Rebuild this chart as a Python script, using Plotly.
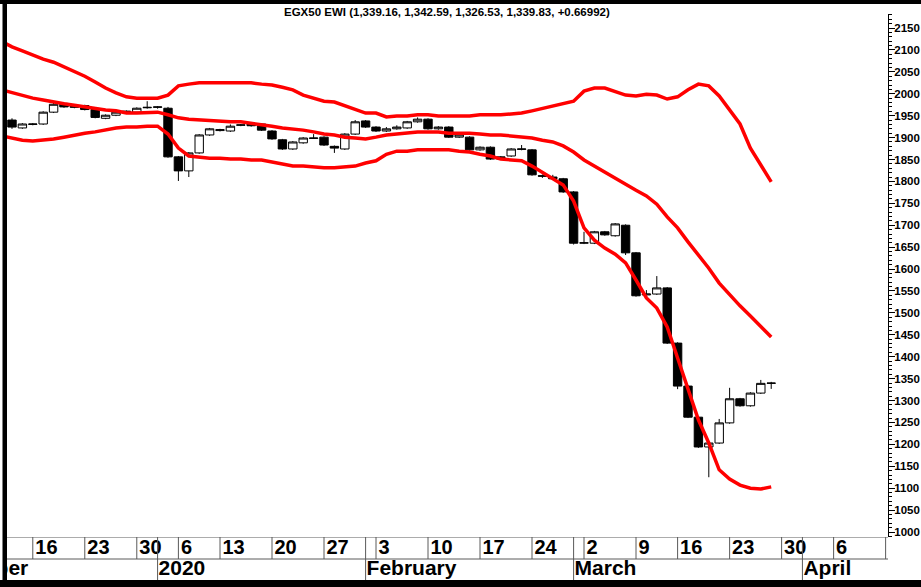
import plotly.graph_objects as go

# ---------------- data ----------------
dates = [
    "2019-12-11", "2019-12-12", "2019-12-15", "2019-12-16", "2019-12-17", "2019-12-18", "2019-12-19",
    "2019-12-22", "2019-12-23", "2019-12-24", "2019-12-25", "2019-12-26", "2019-12-29", "2019-12-30",
    "2019-12-31", "2020-01-02", "2020-01-05", "2020-01-06", "2020-01-08", "2020-01-09", "2020-01-12",
    "2020-01-13", "2020-01-14", "2020-01-15", "2020-01-16", "2020-01-19", "2020-01-20", "2020-01-21",
    "2020-01-22", "2020-01-23", "2020-01-26", "2020-01-27", "2020-01-28", "2020-01-29", "2020-01-30",
    "2020-02-02", "2020-02-03", "2020-02-04", "2020-02-05", "2020-02-06", "2020-02-09", "2020-02-10",
    "2020-02-11", "2020-02-12", "2020-02-13", "2020-02-16", "2020-02-17", "2020-02-18", "2020-02-19",
    "2020-02-20", "2020-02-23", "2020-02-24", "2020-02-25", "2020-02-26", "2020-02-27", "2020-03-01",
    "2020-03-02", "2020-03-03", "2020-03-04", "2020-03-05", "2020-03-08", "2020-03-09", "2020-03-10",
    "2020-03-11", "2020-03-15", "2020-03-16", "2020-03-17", "2020-03-18", "2020-03-19", "2020-03-22",
    "2020-03-23", "2020-03-24", "2020-03-25", "2020-03-26", "2020-03-29",
]

opens = [None,
    1940, 1922, 1930, 1931, 1958, 1978, 1973, 1973, 1964, 1944, 1951, 1958, 1958, 1968, 1969,
    1967, 1856, 1824, 1865, 1906, 1916, 1915, 1928, 1931, 1931, 1915, 1895, 1874, 1888, 1898,
    1901, 1880, 1874, 1908, 1938, 1924, 1915, 1920, 1922, 1936, 1942, 1920, 1924, 1901, 1901,
    1872, 1878, 1856, 1858, 1873, 1872, 1813, 1810, 1806, 1776, 1659, 1659, 1685, 1676, 1700,
    1637, 1541, 1543, 1557, 1431, 1333, 1262, 1194, 1203, 1249, 1304, 1288, 1317, 1339.16]
highs = [None,
    1944, 1933, 1933, 1960, 1980, 1980, 1976, 1975, 1966, 1953, 1960, 1962, 1969, 1983, 1972,
    1970, 1858, 1867, 1908, 1922, 1920, 1930, 1931, 1933, 1933, 1917, 1897, 1892, 1901, 1908,
    1903, 1882, 1910, 1940, 1940, 1926, 1924, 1928, 1938, 1946, 1944, 1926, 1926, 1908, 1903,
    1880, 1880, 1858, 1876, 1883, 1874, 1816, 1815, 1808, 1778, 1685, 1687, 1687, 1705, 1702,
    1639, 1552, 1584, 1559, 1433, 1335, 1264, 1206, 1258, 1329, 1306, 1319, 1347, 1342.59]
lows = [None,
    1920, 1920, 1928, 1929, 1956, 1968, 1967, 1962, 1944, 1942, 1949, 1956, 1956, 1966, 1966,
    1854, 1801, 1810, 1863, 1904, 1914, 1913, 1926, 1925, 1915, 1895, 1872, 1872, 1886, 1897,
    1881, 1865, 1872, 1906, 1922, 1913, 1913, 1918, 1920, 1934, 1918, 1918, 1899, 1899, 1870,
    1870, 1849, 1849, 1856, 1871, 1813, 1808, 1804, 1774, 1656, 1657, 1657, 1676, 1674, 1632,
    1537, 1539, 1541, 1429, 1326, 1260, 1192, 1125, 1201, 1247, 1286, 1286, 1315, 1326.53]
closes = [None,
    1924, 1931, 1931, 1958, 1976, 1970, 1969, 1964, 1946, 1951, 1958, 1960, 1967, 1969, 1970,
    1856, 1824, 1865, 1906, 1920, 1918, 1926, 1929, 1927, 1917, 1897, 1874, 1890, 1899, 1899,
    1883, 1876, 1908, 1936, 1924, 1915, 1920, 1924, 1936, 1942, 1920, 1924, 1901, 1906, 1872,
    1878, 1851, 1851, 1874, 1874, 1815, 1812, 1806, 1776, 1659, 1660, 1685, 1678, 1703, 1637,
    1539, 1543, 1557, 1431, 1333, 1262, 1194, 1203, 1249, 1304, 1288, 1317, 1339.16, 1339.83]

band_upper = [
    2120, 2107, 2098, 2088, 2079, 2072, 2061, 2052, 2040, 2027, 2013, 2002, 1993, 1990, 1990,
    1990, 1997, 2018, 2022, 2025, 2025, 2025, 2025, 2025, 2025, 2022, 2020, 2015, 2009, 1997,
    1990, 1983, 1981, 1972, 1963, 1956, 1956, 1947, 1949, 1949, 1952, 1952, 1949, 1949, 1949,
    1949, 1952, 1952, 1952, 1954, 1956, 1961, 1967, 1972, 1979, 1983, 2006, 2013, 2013, 2006,
    1997, 1995, 1999, 1997, 1988, 1993, 2009, 2022, 2018, 1995, 1963, 1931, 1876, 1837, 1799]
band_middle = [
    2009, 2002, 1997, 1990, 1986, 1981, 1977, 1974, 1970, 1967, 1963, 1961, 1956, 1956, 1958,
    1958, 1952, 1945, 1942, 1940, 1938, 1938, 1936, 1936, 1933, 1929, 1926, 1922, 1920, 1917,
    1913, 1908, 1906, 1901, 1899, 1897, 1901, 1906, 1908, 1910, 1913, 1913, 1913, 1910, 1910,
    1910, 1908, 1906, 1906, 1904, 1901, 1899, 1894, 1890, 1881, 1867, 1849, 1835, 1821, 1808,
    1792, 1780, 1767, 1748, 1719, 1694, 1662, 1632, 1602, 1568, 1541, 1516, 1493, 1470, 1445]
band_lower = [
    1904, 1899, 1894, 1892, 1894, 1897, 1901, 1906, 1910, 1913, 1917, 1922, 1924, 1924, 1926,
    1926, 1908, 1876, 1858, 1856, 1853, 1853, 1851, 1851, 1849, 1849, 1844, 1840, 1835, 1835,
    1833, 1831, 1831, 1833, 1835, 1842, 1847, 1862, 1869, 1869, 1872, 1872, 1872, 1872, 1869,
    1867, 1862, 1858, 1851, 1849, 1847, 1835, 1821, 1805, 1792, 1755, 1694, 1666, 1648, 1634,
    1614, 1575, 1534, 1511, 1468, 1397, 1326, 1256, 1203, 1142, 1121, 1107, 1100, 1098, 1103]

# weekly tick labels (position = trading-day index, future days continue the count)
tick_pos = [2, 7, 12, 16, 20, 25, 30, 35, 40, 45, 50, 55, 60, 64, 69, 74, 79, 84]
tick_text = ["16", "23", "30", "6", "13", "20", "27", "3", "10", "17", "24", "2", "9", "16",
             "23", "30", "6", "13"]
month_pos = [-8.3, 14, 34, 54, 76]
month_text = ["December", "2020", "February", "March", "April"]

title_text = "EGX50 EWI (1,339.16, 1,342.59, 1,326.53, 1,339.83, +0.66992)"

# ---------------- figure ----------------
W, H = 921, 587
PL, PR, PT, PB = 7, 888, 14, 537     # plot area in pixels
TB = 580                              # bottom of date table
xpos = [i - 1 for i in range(len(dates))]
XR = [-0.48, 84.23]
YR = [988.6, 2182.0]
FONT = "Liberation Sans, Arial, sans-serif"

fig = go.Figure()

fig.add_trace(go.Candlestick(
    x=xpos, open=opens, high=highs, low=lows, close=closes,
    increasing=dict(line=dict(color="black", width=1), fillcolor="white"),
    decreasing=dict(line=dict(color="black", width=1), fillcolor="black"),
    whiskerwidth=0, showlegend=False, hoverinfo="skip",
    xaxis="x", yaxis="y",
))

for band in (band_upper, band_middle, band_lower):
    fig.add_trace(go.Scatter(
        x=xpos, y=band, mode="lines",
        line=dict(color="#ff0000", width=3.5),
        showlegend=False, hoverinfo="skip", xaxis="x", yaxis="y",
    ))

px_to_idx = (XR[1] - XR[0]) / (PR - PL)

fig.add_trace(go.Scatter(
    x=[p + 2.5 * px_to_idx for p in tick_pos], y=[31.5] * len(tick_pos),
    text=tick_text, mode="text", textposition="middle right",
    textfont=dict(family=FONT, size=20, color="black", weight="bold"),
    cliponaxis=True, showlegend=False, hoverinfo="skip", xaxis="x2", yaxis="y2",
))
fig.add_trace(go.Scatter(
    x=[p + 1.0 * px_to_idx for p in month_pos], y=[10] * len(month_pos),
    text=month_text, mode="text", textposition="middle right",
    textfont=dict(family=FONT, size=21, color="black", weight="bold"),
    cliponaxis=True, showlegend=False, hoverinfo="skip", xaxis="x2", yaxis="y2",
))

shapes = []
grey = "#5a5a5a"
for p in tick_pos:
    shapes.append(dict(type="line", xref="x2", yref="y2", x0=p, x1=p, y0=TB - 559, y1=TB - PB,
                       line=dict(color=grey, width=1)))
for p in month_pos:
    shapes.append(dict(type="line", xref="x2", yref="y2", x0=p, x1=p, y0=0, y1=TB - PB,
                       line=dict(color=grey, width=1)))
for yy in (TB - PB, TB - 559):
    shapes.append(dict(type="line", xref="paper", yref="y2", x0=PL / W, x1=PR / W, y0=yy, y1=yy,
                       line=dict(color=grey, width=1)))
# black frame pieces
shapes.append(dict(type="rect", xref="paper", yref="paper", x0=0, x1=1, y0=-0.01, y1=(H - TB) / H,
                   fillcolor="black", line=dict(width=0)))
shapes.append(dict(type="rect", xref="paper", yref="paper", x0=0, x1=1, y0=(H - 4) / H, y1=1.01,
                   fillcolor="black", line=dict(width=0)))
shapes.append(dict(type="rect", xref="paper", yref="paper", x0=2.5 / W, x1=PL / W, y0=0, y1=1,
                   fillcolor="black", line=dict(width=0)))

fig.update_layout(
    width=W, height=H, autosize=False,
    margin=dict(l=0, r=0, t=0, b=0),
    paper_bgcolor="white", plot_bgcolor="white",
    showlegend=False, boxgap=0.15, boxgroupgap=0.05,
    xaxis=dict(domain=[PL / W, PR / W], range=XR, visible=False,
               rangeslider=dict(visible=False), anchor="y"),
    yaxis=dict(domain=[(H - PB) / H, (H - PT) / H], range=YR, side="right", anchor="x",
               tickmode="linear", tick0=1000, dtick=50,
               ticks="outside", ticklen=6, tickwidth=1, tickcolor="black",
               minor=dict(dtick=10, ticklen=3, tickcolor="black", ticks="outside"),
               showline=True, linecolor="black", linewidth=1,
               showgrid=False, zeroline=False, ticklabelstandoff=-3,
               tickfont=dict(family=FONT, size=11.5, color="black", weight="bold")),
    xaxis2=dict(domain=[PL / W, PR / W], range=XR, visible=False, anchor="y2"),
    yaxis2=dict(domain=[(H - TB) / H, (H - PB) / H], range=[0, TB - PB], visible=False,
                anchor="x2"),
    shapes=shapes,
    annotations=[dict(text=title_text, xref="paper", yref="paper", x=447 / W, y=(H - 12) / H,
                      xanchor="center", yanchor="middle", showarrow=False,
                      font=dict(family=FONT, size=11.5, color="black", weight="bold"))],
)

fig.write_html("out.html", config={"displayModeBar": False},
               post_script="document.body.style.margin='0px';")
